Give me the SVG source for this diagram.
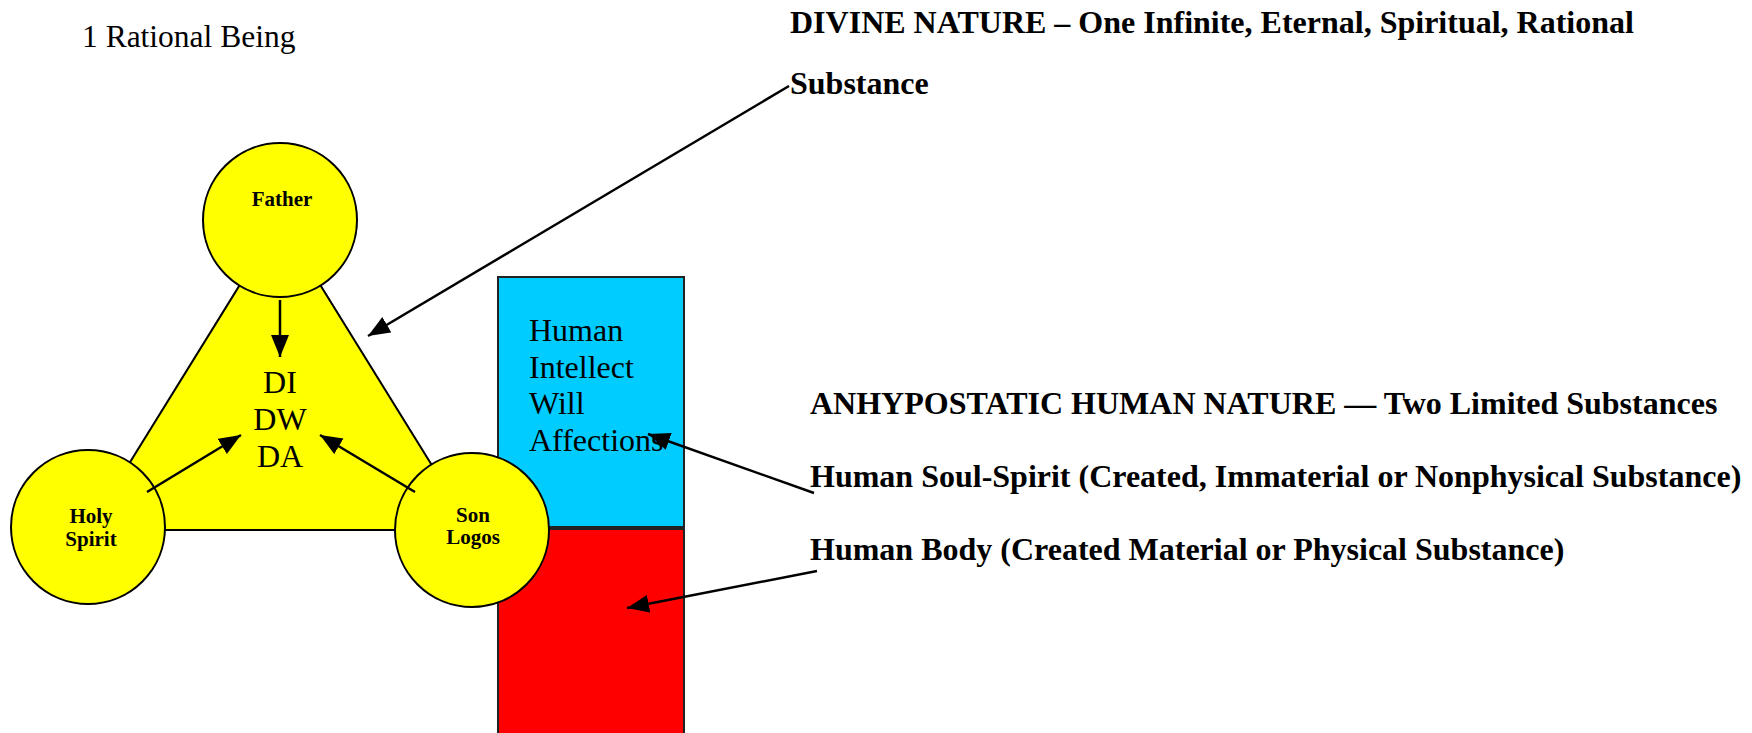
<svg xmlns="http://www.w3.org/2000/svg" width="1752" height="733" viewBox="0 0 1752 733">
<style>
.serif{font-family:"Liberation Serif","Times New Roman",serif;fill:#000}
.b{font-weight:bold}
.node{fill:#ffff00;stroke:#000;stroke-width:2}
.conn{stroke:#000;stroke-width:2.5;fill:none;marker-end:url(#ah)}
</style>
<defs>
<marker id="ah" markerUnits="userSpaceOnUse" markerWidth="24" markerHeight="20" refX="22" refY="9" orient="auto">
<path d="M0,0 L22,9 L0,18 Z" fill="#000"/>
</marker>
</defs>
<rect width="1752" height="733" fill="#fff"/>
<text class="serif" x="82" y="47" font-size="31.5">1 Rational Being</text>
<g id="triangle">
<polygon points="280,220 88,530 472,530" class="node"/>
</g>
<g id="human-soul">
<rect x="498" y="277" width="186" height="250" fill="#00ccff" stroke="#222" stroke-width="2"/>
<text class="serif" font-size="32"><tspan x="529" y="341">Human</tspan><tspan x="529" y="378">Intellect</tspan><tspan x="529" y="414">Will</tspan><tspan x="529" y="451">Affections</tspan></text>
</g>
<g id="human-body">
<rect x="498" y="529" width="186" height="210" fill="#ff0000" stroke="#222" stroke-width="2"/>
</g>
<g id="father">
<circle cx="280" cy="220" r="77" class="node"/>
<text class="serif b" x="282" y="206" font-size="21" text-anchor="middle">Father</text>
</g>
<g id="holy-spirit">
<circle cx="88" cy="527" r="77" class="node"/>
<text class="serif b" font-size="21" text-anchor="middle"><tspan x="91" y="523">Holy</tspan><tspan x="91" y="546">Spirit</tspan></text>
</g>
<g id="son">
<circle cx="472" cy="530" r="77" class="node"/>
<text class="serif b" font-size="21" text-anchor="middle"><tspan x="473" y="522">Son</tspan><tspan x="473" y="544">Logos</tspan></text>
</g>
<g id="attributes">
<text class="serif" font-size="32" text-anchor="middle"><tspan x="280" y="393">DI</tspan><tspan x="280" y="430">DW</tspan><tspan x="280" y="467">DA</tspan></text>
</g>
<g id="labels">
<text class="serif b" x="790" y="33" font-size="32">DIVINE NATURE – One Infinite, Eternal, Spiritual, Rational</text>
<text class="serif b" x="790" y="94" font-size="32">Substance</text>
<text class="serif b" x="810" y="414" font-size="32">ANHYPOSTATIC HUMAN NATURE — Two Limited Substances</text>
<text class="serif b" x="810" y="487" font-size="32">Human Soul-Spirit (Created, Immaterial or Nonphysical Substance)</text>
<text class="serif b" x="810" y="560" font-size="32">Human Body (Created Material or Physical Substance)</text>
</g>
<g id="connectors">
<line x1="789" y1="86" x2="368" y2="336" class="conn"/>
<line x1="280" y1="300" x2="280" y2="357" class="conn"/>
<line x1="147" y1="492" x2="241" y2="435" class="conn"/>
<line x1="415" y1="492" x2="320" y2="435" class="conn"/>
<line x1="814" y1="493" x2="648" y2="434" class="conn"/>
<line x1="817" y1="571" x2="627" y2="608" class="conn"/>
</g>
</svg>
